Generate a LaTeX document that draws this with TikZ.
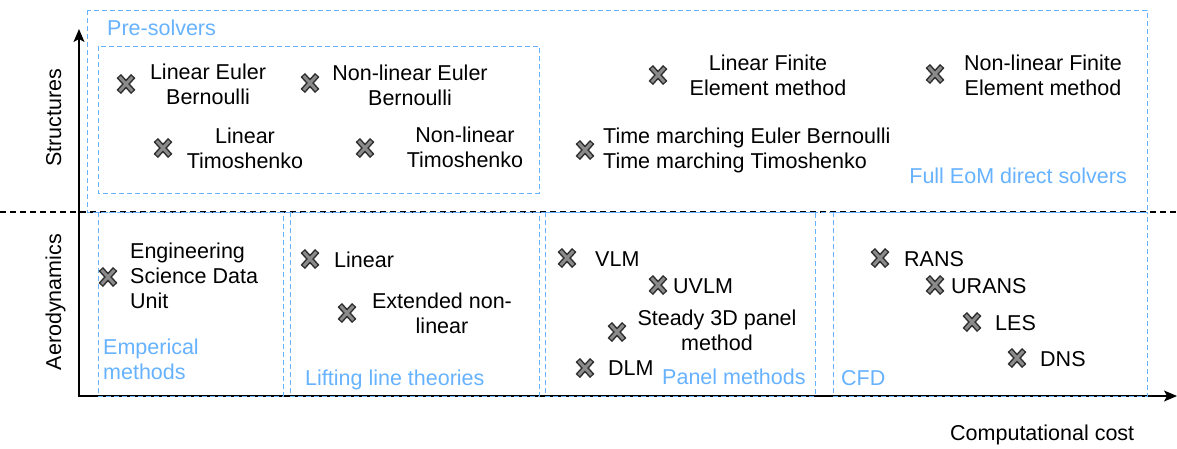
\documentclass[tikz,border=0pt]{standalone}
\usepackage{fontspec}
\setmainfont{Liberation Sans}
\usetikzlibrary{arrows.meta}
\definecolor{lblue}{HTML}{66B2FF}
\definecolor{xdark}{HTML}{2E2E2E}
\definecolor{xgray}{HTML}{8A8A8A}
\newcommand\fs{\fontsize{21.5}{25}\selectfont}
\newcommand\tstrut{\rule{0pt}{16pt}}

\begin{document}
\begin{tikzpicture}[x=1pt,y=-1pt,
  group/.style={draw=lblue, line width=1pt, dash pattern=on 5pt off 3pt},
  grouplabel/.style={text=lblue, font=\fs, inner sep=0pt, align=left},
  item/.style={text=black, font=\fs, inner sep=0pt},
  xm/.style={inner sep=0pt, minimum width=28pt, minimum height=28pt,
    path picture={
      \draw[xdark, line width=6pt]
        ([shift={(-7.2,-8)}]path picture bounding box.center) -- ([shift={(7.2,8)}]path picture bounding box.center)
        ([shift={(7.2,-8)}]path picture bounding box.center) -- ([shift={(-7.2,8)}]path picture bounding box.center);
      \draw[xgray, line width=3pt]
        ([shift={(-6.3,-7)}]path picture bounding box.center) -- ([shift={(6.3,7)}]path picture bounding box.center)
        ([shift={(6.3,-7)}]path picture bounding box.center) -- ([shift={(-6.3,7)}]path picture bounding box.center);
    }},
  axis/.style={draw=black, line width=1.3pt,
    {Stealth[length=13pt,width=11pt,inset=3pt]}-{Stealth[length=13pt,width=11pt,inset=3pt]}},
  divider/.style={draw=black, line width=1.1pt, dash pattern=on 6pt off 4pt}
]
\useasboundingbox (0,0) rectangle (1177,448);

% axes and the structures / aerodynamics divider
\coordinate (origin) at (79,396);
\coordinate (ytip) at (79,29);
\coordinate (xtip) at (1177,396);
\coordinate (dl) at (0,212);
\coordinate (dr) at (1177,212);
\draw[divider] (dl) -- (dr);
\draw[axis] (ytip) -- (origin) -- (xtip);

\node[item, rotate=90, anchor=base] (ystruct) at (61,118) {Structures};
\node[item, rotate=90, anchor=base] (yaero) at (61,302) {Aerodynamics};
\node[item, anchor=base west] (xlab) at (950,440) {Computational cost};

% group frames
\draw[group] (87,10) rectangle (1147,212);
\draw[group] (98,46) rectangle (539,193);
\draw[group] (98,212) rectangle (283,396);
\draw[group] (290,212) rectangle (539,396);
\draw[group] (545,212) rectangle (815,396);
\draw[group] (833,212) rectangle (1147,396);

% group labels
\node[grouplabel, anchor=base west] (gpre) at (107,35) {Pre-solvers};
\node[grouplabel, anchor=base east] (gfull) at (1127,183) {Full EoM direct solvers};
\node[grouplabel, anchor=north west] (gemp) at (103,338) {\tstrut Emperical\\methods};
\node[grouplabel, anchor=base west] (glift) at (305,385) {Lifting line theories};
\node[grouplabel, anchor=base west] (gpanel) at (662,384) {Panel methods};
\node[grouplabel, anchor=base west] (gcfd) at (841,385) {CFD};

% structural models
\node[xm] (m1) at (126,84) {};
\node[item, align=center, anchor=north] (t1) at (208,63) {\tstrut Linear Euler\\Bernoulli};
\node[xm] (m2) at (310,83) {};
\node[item, align=center, anchor=north] (t2) at (410,64) {\tstrut Non-linear Euler\\Bernoulli};
\node[xm] (m3) at (163,148) {};
\node[item, align=center, anchor=north] (t3) at (245,127) {\tstrut Linear\\Timoshenko};
\node[xm] (m4) at (365,148) {};
\node[item, align=center, anchor=north] (t4) at (465,126) {\tstrut Non-linear\\Timoshenko};
\node[xm] (m5) at (658,75) {};
\node[item, align=center, anchor=north] (t5) at (768,54) {\tstrut Linear Finite\\Element method};
\node[xm] (m6) at (935,74) {};
\node[item, align=center, anchor=north] (t6) at (1043,54) {\tstrut Non-linear Finite\\Element method};
\node[xm] (m7) at (585,150) {};
\node[item, align=left, anchor=north west] (t7) at (603,127) {\tstrut Time marching Euler Bernoulli\\Time marching Timoshenko};

% aerodynamic models
\node[xm] (a1) at (108,277) {};
\node[item, align=left, anchor=north west] (u1) at (130,242) {\tstrut Engineering\\Science Data\\Unit};
\node[xm] (a2) at (310,259) {};
\node[item, anchor=base west] (u2) at (334,267) {Linear};
\node[xm] (a3) at (347,313) {};
\node[item, align=center, anchor=north] (u3) at (442,292) {\tstrut Extended non-\\linear};
\node[xm] (a4) at (567,258) {};
\node[item, anchor=base west] (u4) at (595,266) {VLM};
\node[xm] (a5) at (658,285) {};
\node[item, anchor=base west] (u5) at (673,293) {UVLM};
\node[xm] (a6) at (617,332) {};
\node[item, align=center, anchor=north] (u6) at (717,309) {\tstrut Steady 3D panel\\method};
\node[xm] (a7) at (585,368) {};
\node[item, anchor=base west] (u7) at (608,375) {DLM};
\node[xm] (a8) at (880,258) {};
\node[item, anchor=base west] (u8) at (904,266) {RANS};
\node[xm] (a9) at (935,285) {};
\node[item, anchor=base west] (u9) at (951,293) {URANS};
\node[xm] (a10) at (972,322) {};
\node[item, anchor=base west] (u10) at (995,330) {LES};
\node[xm] (a11) at (1017,358) {};
\node[item, anchor=base west] (u11) at (1040,366) {DNS};
\end{tikzpicture}
\end{document}
